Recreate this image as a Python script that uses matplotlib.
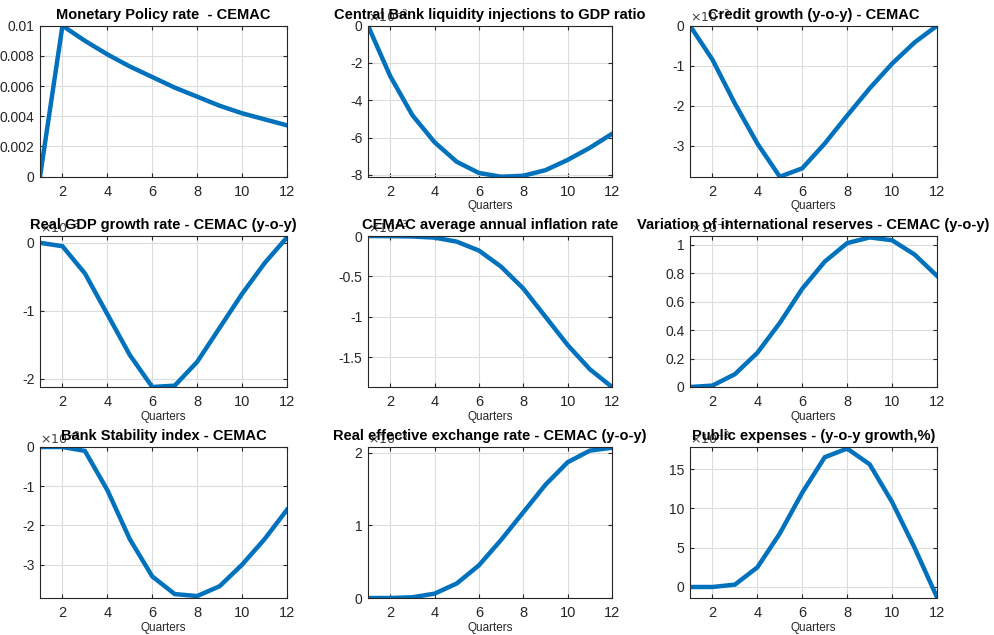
import numpy as np
import matplotlib.pyplot as plt

plt.rcParams['font.family'] = ['Liberation Sans', 'DejaVu Sans']

quarters = np.arange(1, 13)

titles = [
    'Monetary Policy rate  - CEMAC',
    'Central Bank liquidity injections to GDP ratio',
    'Credit growth (y-o-y) - CEMAC',
    'Real GDP growth rate - CEMAC (y-o-y)',
    'CEMAC average annual inflation rate',
    'Variation of international reserves - CEMAC (y-o-y)',
    'Bank Stability index - CEMAC',
    'Real effective exchange rate - CEMAC (y-o-y)',
    'Public expenses - (y-o-y growth,%)',
]

# values (scaled by the exponent shown on each axis)
policy_rate = [0, 0.0100, 0.0090, 0.0081, 0.0073, 0.0066, 0.0059, 0.0053, 0.0047, 0.0042, 0.0038, 0.0034]
liquidity = [0, -2.7, -4.8, -6.25, -7.3, -7.9, -8.1, -8.05, -7.75, -7.2, -6.55, -5.8]
credit = [0, -0.85, -1.95, -2.95, -3.78, -3.57, -2.95, -2.25, -1.57, -0.95, -0.42, 0]
gdp = [0, -0.05, -0.45, -1.05, -1.65, -2.12, -2.1, -1.75, -1.25, -0.75, -0.3, 0.08]
inflation = [0, -0.002, -0.006, -0.02, -0.07, -0.18, -0.38, -0.65, -1.0, -1.35, -1.65, -1.87]
reserves = [0, 0.01, 0.09, 0.24, 0.45, 0.69, 0.88, 1.01, 1.05, 1.03, 0.93, 0.78]
stability = [0, 0, -0.1, -1.1, -2.35, -3.3, -3.75, -3.8, -3.55, -3.0, -2.35, -1.6]
reer = [0, 0, 0.01, 0.06, 0.2, 0.45, 0.8, 1.18, 1.56, 1.87, 2.03, 2.07]
public_exp = [0, 0, 0.3, 2.5, 6.8, 12.0, 16.5, 17.6, 15.6, 10.8, 5.0, -1.3]

series = [policy_rate, liquidity, credit, gdp, inflation, reserves, stability, reer, public_exp]
ylims = [(0, 0.01), (-8.1, 0), (-3.78, 0), (-2.12, 0.1), (-1.87, 0), (0, 1.06),
         (-3.85, 0), (0, 2.08), (-1.4, 17.8)]
yticks = [np.arange(0, 0.0101, 0.002), [-8, -6, -4, -2, 0], [-3, -2, -1, 0], [-2, -1, 0],
          [-1.5, -1, -0.5, 0], [0, 0.2, 0.4, 0.6, 0.8, 1], [-3, -2, -1, 0], [0, 1, 2],
          [0, 5, 10, 15]]
yticklabels = [['0', '0.002', '0.004', '0.006', '0.008', '0.01'], None, None, None,
               ['-1.5', '-1', '-0.5', '0'], ['0', '0.2', '0.4', '0.6', '0.8', '1'], None, None, None]
exponent = [None, '-3', '-3', '-3', '-3', '-3', '-3', '-3', '-3']
show_xlabel = [False, True, True, True, True, True, True, True, True]

fig = plt.figure(figsize=(9.95, 6.35), dpi=100)

lefts = [40, 368, 690]
widths = [247, 244, 247]
tops = [25.7, 236, 447]
height = 151

for k in range(9):
    r, c = divmod(k, 3)
    ax = fig.add_axes([lefts[c] / 995, 1 - (tops[r] + height) / 635, widths[c] / 995, height / 635])
    ax.plot(quarters, series[k], color='#0072BD', lw=3.2, solid_joinstyle='miter')
    ax.set_xlim(1, 12)
    ax.set_ylim(*ylims[k])
    ax.set_xticks([2, 4, 6, 8, 10, 12])
    ax.set_yticks(yticks[k])
    if yticklabels[k] is not None:
        ax.set_yticklabels(yticklabels[k])
    else:
        ax.set_yticklabels([('%g' % v) for v in yticks[k]])
    ax.grid(True, color='#dcdcdc', lw=0.8)
    ax.tick_params(direction='in', length=3, top=True, right=True, labelsize=10.5,
                   colors='#262626')
    ax.tick_params(axis='x', pad=6)
    ax.tick_params(axis='y', pad=4, labelsize=10)
    for s in ax.spines.values():
        s.set_color('#262626')
        s.set_linewidth(0.8)
    if exponent[k] is not None:
        ax.text(0.0, 1.0, r'$\times10^{%s}$' % exponent[k], transform=ax.transAxes,
                fontsize=9, color='#404040', va='bottom', ha='left')
    ax.set_title(titles[k], fontsize=10.5, fontweight='bold', pad=5, zorder=5)
    if show_xlabel[k]:
        ax.set_xlabel('Quarters', fontsize=8.5, color='#262626', labelpad=1)

fig.savefig('out.png', dpi=100)
